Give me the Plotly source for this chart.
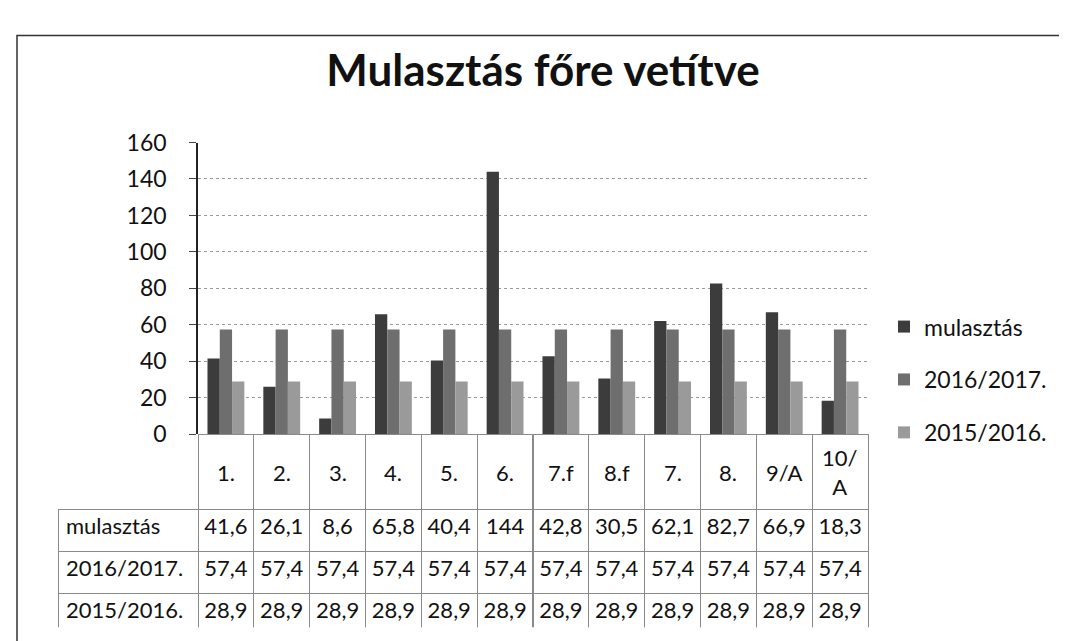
import plotly.graph_objs as go

categories = ['1.', '2.', '3.', '4.', '5.', '6.', '7.f', '8.f', '7.', '8.', '9/A', '10/<br>A']
mulasztas = [41.6, 26.1, 8.6, 65.8, 40.4, 144, 42.8, 30.5, 62.1, 82.7, 66.9, 18.3]
ev_2016_2017 = [57.4, 57.4, 57.4, 57.4, 57.4, 57.4, 57.4, 57.4, 57.4, 57.4, 57.4, 57.4]
ev_2015_2016 = [28.9, 28.9, 28.9, 28.9, 28.9, 28.9, 28.9, 28.9, 28.9, 28.9, 28.9, 28.9]
series_names = ['mulasztás', '2016/2017.', '2015/2016.']
y_ticks = [0, 20, 40, 60, 80, 100, 120, 140, 160]

W, H = 1067, 641
FONT = 'Lato'

def hu(v):
    # Hungarian decimal comma
    return ('%g' % v).replace('.', ',')

# Bars
colors = ['#3c3c3c', '#6e6e6e', '#9a9a9a']
series = [mulasztas, ev_2016_2017, ev_2015_2016]
data = []
for i in range(3):
    data.append(go.Bar(
        x=categories,
        y=series[i],
        name=series_names[i],
        legendgroup=series_names[i],
        marker=dict(color=colors[i], line=dict(width=0)),
        xaxis='x', yaxis='y',
    ))

# Data table under the chart
plot_left, plot_right = 190, 860
table_left = 50
col_w = (plot_right - plot_left) / len(categories)
header_vals = [''] * (len(categories) + 1)
cell_vals = [series_names] + [[hu(mulasztas[j]), hu(ev_2016_2017[j]), hu(ev_2015_2016[j])]
                              for j in range(len(categories))]
line_cols = ['rgba(0,0,0,0)'] + ['#8a8a8a'] * len(categories)
table = go.Table(
    domain=dict(x=[table_left / W, plot_right / W], y=[1 - 632 / H, 1 - 430 / H]),
    columnwidth=[plot_left - table_left] + [col_w] * len(categories),
    header=dict(values=header_vals, height=75,
                fill=dict(color='rgba(0,0,0,0)'),
                line=dict(color=line_cols, width=1)),
    cells=dict(values=cell_vals, height=42, align=['left'] + ['center'] * len(categories),
               fill=dict(color='rgba(0,0,0,0)'),
               line=dict(color='#8a8a8a', width=1),
               font=dict(family=FONT, size=22, color='#111')),
)
data.append(table)

# category labels centred in the table header cells (x = category index)
annotations = []
for j, c in enumerate(categories):
    annotations.append(dict(x=j, xref='x', y=1 - 470 / H, yref='paper', text=c,
                            showarrow=False, xanchor='center', yanchor='middle',
                            font=dict(family=FONT, size=22, color='#111')))

layout = go.Layout(
    width=W,
    height=H,
    margin=dict(l=0, r=0, t=0, b=0),
    paper_bgcolor='white',
    plot_bgcolor='white',
    font=dict(family=FONT, size=22, color='#111'),
    barmode='group',
    bargap=0.34,
    bargroupgap=0,
    title=dict(text='<b>Mulasztás főre vetítve</b>', x=535 / W, y=1 - 63 / H,
               xanchor='center', yanchor='middle',
               font=dict(family=FONT, size=44, color='#111')),
    xaxis=dict(type='category', domain=[plot_left / W, plot_right / W], showticklabels=False,
               showgrid=False, zeroline=False, showline=False, ticks=''),
    yaxis=dict(domain=[1 - 430 / H, 1 - 125 / H], range=[0, 160], tickvals=y_ticks,
               showline=True, linecolor='#222', linewidth=1.5,
               ticks='outside', ticklen=7, tickcolor='#444', ticklabelstandoff=18,
               showgrid=True, gridcolor='#9a9a9a', griddash='dot', gridwidth=1,
               zeroline=False, tickfont=dict(family=FONT, size=23, color='#111')),
    legend=dict(x=876 / W, y=1 - 295 / H, xanchor='left', yanchor='top',
                tracegroupgap=20, font=dict(family=FONT, size=23, color='#111'),
                bgcolor='rgba(0,0,0,0)'),
    annotations=annotations,
    shapes=[dict(type='rect', xref='paper', yref='paper', x0=9 / W, x1=1.02,
                 y0=-0.05, y1=1 - 13 / H, line=dict(color='#333', width=1.5))],
)

fig = go.Figure(data=data, layout=layout)
fig.write_html('out.html')
